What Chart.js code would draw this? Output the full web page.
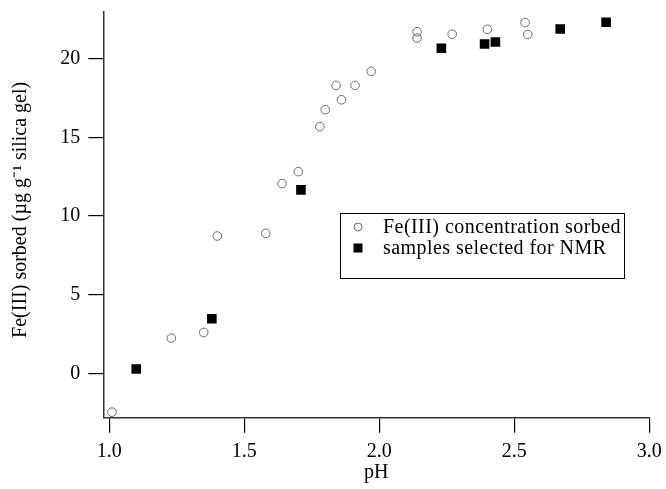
<!DOCTYPE html>
<html>
<head>
<meta charset="utf-8">
<script src="https://cdn.jsdelivr.net/npm/chart.js@4.4.0/dist/chart.umd.min.js"></script>
<style>
  html, body { margin: 0; padding: 0; background: #fff; }
  #wrap { width: 666px; height: 489px; }
</style>
</head>
<body>
<div id="wrap"><canvas id="c" width="666" height="489"></canvas></div>
<script>
// ---- Data ----
const circlePH = [1.01, 1.23, 1.35, 1.40, 1.58, 1.64, 1.70, 1.78, 1.80, 1.86, 1.84, 1.91, 1.97, 2.14, 2.14, 2.27, 2.40, 2.54, 2.55];
const circleFe = [-2.45, 2.25, 2.61, 8.73, 8.90, 12.06, 12.82, 15.67, 16.75, 17.38, 18.29, 18.29, 19.18, 21.70, 21.30, 21.54, 21.85, 22.28, 21.52];
const squarePH = [1.10, 1.38, 1.71, 2.23, 2.39, 2.43, 2.67, 2.84];
const squareFe = [0.29, 3.48, 11.66, 20.65, 20.92, 21.05, 21.87, 22.30];
const xTickValues = [1.0, 1.5, 2.0, 2.5, 3.0];
const yTickValues = [0, 5, 10, 15, 20];
const seriesLabels = ['Fe(III) concentration sorbed', 'samples selected for NMR'];
const xTitle = 'pH';
const yTitle = '\u2002Fe(III) sorbed (\u00b5g g\u207b\u00b9 silica gel)';

const toPoints = (xs, ys) => xs.map((x, i) => ({ x: x, y: ys[i] }));
const FONT = "'Liberation Serif', 'Times New Roman', serif";

const legendBox = {
  id: 'legendBox',
  afterDatasetsDraw(chart) {
    const ctx = chart.ctx;
    const x0 = 340.5, y0 = 213.5, w = 284, h = 65;
    ctx.save();
    ctx.fillStyle = '#fff';
    ctx.fillRect(x0, y0, w, h);
    ctx.strokeStyle = '#000';
    ctx.lineWidth = 1;
    ctx.strokeRect(x0, y0, w, h);
    ctx.font = '20px ' + FONT;
    try { ctx.letterSpacing = '0.45px'; } catch (e) {}
    ctx.fillStyle = '#000';
    ctx.textBaseline = 'middle';
    const rows = [227, 248];
    chart.data.datasets.forEach((ds, i) => {
      const my = rows[i];
      const mx = 358;
      if (ds.pointStyle === 'circle') {
        ctx.beginPath();
        ctx.arc(mx, my, 4, 0, Math.PI * 2);
        ctx.strokeStyle = ds.borderColor;
        ctx.lineWidth = 1;
        ctx.stroke();
      } else {
        ctx.fillStyle = ds.backgroundColor;
        ctx.fillRect(mx - 4.5, my - 4.5, 9, 9);
      }
      ctx.fillStyle = '#000';
      ctx.fillText(ds.label, 383, my + 1);
    });
    ctx.restore();
  }
};

new Chart(document.getElementById('c'), {
  type: 'scatter',
  data: {
    datasets: [
      {
        label: seriesLabels[0],
        data: toPoints(circlePH, circleFe),
        pointStyle: 'circle',
        pointRadius: 4.3,
        pointBorderWidth: 1,
        borderColor: '#6a6a6a',
        backgroundColor: 'rgba(255,255,255,0)',
        pointHoverRadius: 4.3
      },
      {
        label: seriesLabels[1],
        data: toPoints(squarePH, squareFe),
        pointStyle: 'rect',
        pointRadius: 6.8,
        pointBorderWidth: 0,
        borderColor: '#000',
        backgroundColor: '#000',
        pointHoverRadius: 6.8
      }
    ]
  },
  options: {
    responsive: false,
    animation: false,
    events: [],
    layout: { padding: { top: 12, right: 16.7, left: 0, bottom: 0 } },
    plugins: { legend: { display: false }, tooltip: { enabled: false } },
    scales: {
      x: {
        type: 'linear',
        min: 0.978,
        max: 3.0,
        afterBuildTicks: s => { s.ticks = xTickValues.map(v => ({ value: v })); },
        afterFit: s => { s.height = 489 - 417.7; s.paddingLeft = 0; s.paddingRight = 0; },
        grid: { drawOnChartArea: false, drawTicks: true, tickLength: 15, color: '#000', lineWidth: 1.2 },
        border: { color: '#333', width: 1.5 },
        ticks: {
          color: '#000',
          font: { family: FONT, size: 20 },
          padding: 7,
          maxRotation: 0,
          callback: v => Number(v).toFixed(1)
        },
        title: { display: true, text: xTitle, color: '#000', font: { family: FONT, size: 20 }, padding: { top: 0, bottom: 4 } }
      },
      y: {
        type: 'linear',
        min: -2.8,
        max: 22.95,
        afterBuildTicks: s => { s.ticks = yTickValues.map(v => ({ value: v })); },
        afterFit: s => { s.width = 103.3; s.paddingTop = 0; s.paddingBottom = 0; },
        grid: { drawOnChartArea: false, drawTicks: true, tickLength: 15, color: '#000', lineWidth: 1.2 },
        border: { color: '#333', width: 1.5 },
        ticks: {
          color: '#000',
          font: { family: FONT, size: 20 },
          padding: 8,
          callback: v => String(v)
        },
        title: { display: true, text: yTitle, color: '#000', font: { family: FONT, size: 20 }, padding: { top: 9, bottom: 0 } }
      }
    }
  },
  plugins: [legendBox]
});
</script>
</body>
</html>
